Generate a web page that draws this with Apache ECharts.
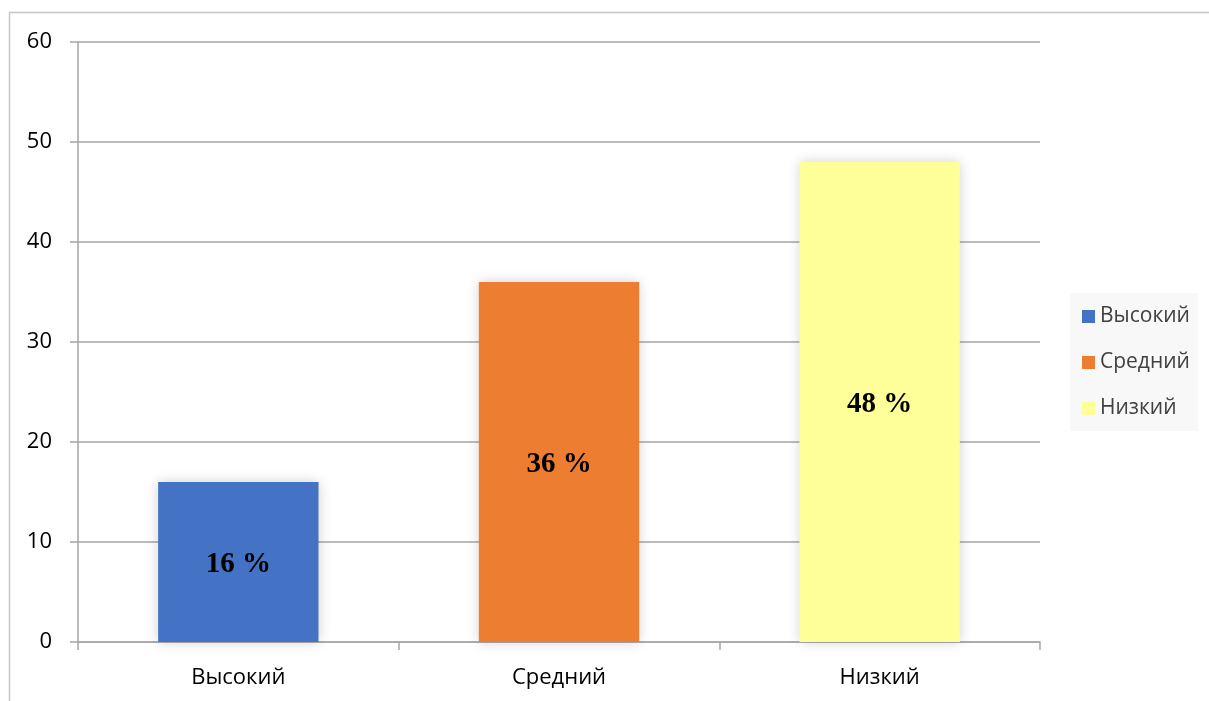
<!DOCTYPE html>
<html>
<head>
<meta charset="utf-8">
<script src="https://cdn.jsdelivr.net/npm/echarts@6/dist/echarts.min.js"></script>
<style>
html, body { margin: 0; padding: 0; background: #fff; }
#main { width: 1209px; height: 701px; }
</style>
</head>
<body>
<div id="main"></div>
<script>
var categories = ['Высокий', 'Средний', 'Низкий'];
var values = [16, 36, 48];
var labels = ['16 %', '36 %', '48 %'];
var colors = ['#4472c4', '#ed7d31', '#ffff99'];

var myChart = echarts.init(document.getElementById('main'));

// one series per category so the legend shows all three
var series = categories.map(function (name, i) {
    var data = categories.map(function (c, j) { return j === i ? values[i] : '-'; });
    return {
        name: name,
        type: 'bar',
        stack: 'one',
        barWidth: '50%',
        data: data,
        itemStyle: {
            color: colors[i],
            shadowBlur: 12,
            shadowColor: 'rgba(0,0,0,0.18)'
        },
        label: {
            show: true,
            position: 'inside',
            offset: [0, 3],
            formatter: function () { return labels[i]; },
            fontFamily: 'Liberation Serif',
            fontWeight: 'bold',
            fontSize: 29,
            color: '#000'
        }
    };
});

option = {
    animation: false,
    graphic: [{
        type: 'rect',
        shape: { x: 9.5, y: 12.5, width: 1400, height: 900 },
        style: { fill: null, stroke: '#c6c6c6', lineWidth: 1.5 },
        silent: true
    }],
    grid: { left: 78, right: 169, top: 42, bottom: 59 },
    legend: {
        orient: 'vertical',
        left: 1070,
        top: 293,
        padding: [13, 8, 12, 12],
        backgroundColor: '#f8f8f8',
        itemWidth: 13,
        itemHeight: 13,
        itemGap: 25,
        icon: 'rect',
        textStyle: { fontFamily: 'Open Sans', fontSize: 21, color: '#404040' },
        data: categories
    },
    xAxis: {
        type: 'category',
        data: categories,
        axisLine: { lineStyle: { color: '#a6a6a6', width: 1.5 } },
        axisTick: { show: true, length: 8, lineStyle: { color: '#a6a6a6', width: 1.5 } },
        axisLabel: { margin: 25, fontFamily: 'Open Sans', fontSize: 22, color: '#000' }
    },
    yAxis: {
        type: 'value',
        min: 0,
        max: 60,
        interval: 10,
        axisLine: { show: true, lineStyle: { color: '#a6a6a6', width: 1.5 } },
        axisTick: { show: true, length: 8, lineStyle: { color: '#a6a6a6', width: 1.5 } },
        splitLine: { lineStyle: { color: '#a6a6a6', width: 1.5 } },
        axisLabel: { margin: 26, fontFamily: 'Open Sans', fontSize: 22, color: '#000' }
    },
    series: series
};
myChart.setOption(option);
</script>
</body>
</html>
